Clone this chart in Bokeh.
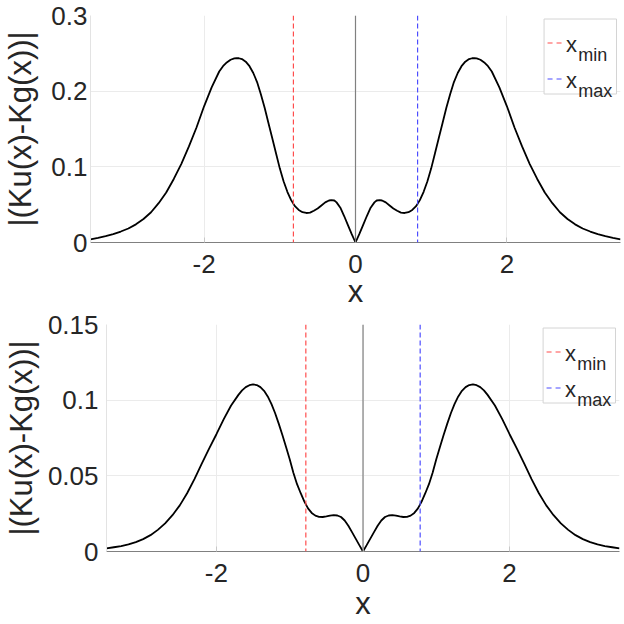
from bokeh.plotting import figure
from bokeh.models import Span, Label, FixedTicker, Range1d
from bokeh.embed import file_html
from bokeh.resources import INLINE

# ---------------- data ----------------
x_top = [-3.5, -3.4, -3.3, -3.2, -3.1, -3.0, -2.9, -2.8, -2.7, -2.6, -2.5, -2.4, -2.3, -2.2, -2.1,
         -2.0, -1.9, -1.8, -1.75, -1.7, -1.65, -1.6, -1.57, -1.54, -1.5, -1.45, -1.4, -1.35, -1.3,
         -1.25, -1.2, -1.15, -1.1, -1.05, -1.0, -0.95, -0.9, -0.85, -0.8, -0.75, -0.7, -0.65, -0.6,
         -0.55, -0.5, -0.45, -0.4, -0.35, -0.32, -0.28, -0.25, -0.2, -0.15, -0.1, -0.05, 0.0,
         0.05, 0.1, 0.15, 0.2, 0.25, 0.28, 0.32, 0.35, 0.4, 0.45, 0.5, 0.55, 0.6, 0.65, 0.7, 0.75,
         0.8, 0.85, 0.9, 0.95, 1.0, 1.05, 1.1, 1.15, 1.2, 1.25, 1.3, 1.35, 1.4, 1.45, 1.5, 1.54,
         1.57, 1.6, 1.65, 1.7, 1.75, 1.8, 1.9, 2.0, 2.1, 2.2, 2.3, 2.4, 2.5, 2.6, 2.7, 2.8, 2.9,
         3.0, 3.1, 3.2, 3.3, 3.4, 3.5]
y_top = [0.0042, 0.0062, 0.0085, 0.0112, 0.0145, 0.0185, 0.024, 0.031, 0.040, 0.052, 0.066, 0.084,
         0.104, 0.127, 0.152, 0.180, 0.205, 0.226, 0.233, 0.238, 0.2415, 0.2433, 0.2438, 0.2435,
         0.2425, 0.239, 0.233, 0.224, 0.212, 0.196, 0.178, 0.158, 0.138, 0.118, 0.098, 0.081, 0.067,
         0.056, 0.048, 0.043, 0.040, 0.039, 0.0395, 0.042, 0.045, 0.049, 0.053, 0.0555, 0.056,
         0.0555, 0.053, 0.046, 0.035, 0.023, 0.011, 0.0,
         0.011, 0.023, 0.035, 0.046, 0.053, 0.0555, 0.056, 0.0555, 0.053, 0.049, 0.045, 0.042,
         0.0395, 0.039, 0.040, 0.043, 0.048, 0.056, 0.067, 0.081, 0.098, 0.118, 0.138, 0.158, 0.178,
         0.196, 0.212, 0.224, 0.233, 0.239, 0.2425, 0.2435, 0.2438, 0.2433, 0.2415, 0.238, 0.233,
         0.226, 0.205, 0.180, 0.152, 0.127, 0.104, 0.084, 0.066, 0.052, 0.040, 0.031, 0.024, 0.0185,
         0.0145, 0.0112, 0.0085, 0.0062, 0.0042]

x_bot = [-3.5, -3.4, -3.3, -3.2, -3.1, -3.0, -2.9, -2.8, -2.7, -2.6, -2.5, -2.4, -2.3, -2.2, -2.1,
         -2.0, -1.9, -1.8, -1.7, -1.65, -1.6, -1.55, -1.5, -1.45, -1.4, -1.35, -1.3, -1.25, -1.2,
         -1.15, -1.1, -1.05, -1.0, -0.95, -0.9, -0.85, -0.8, -0.75, -0.7, -0.65, -0.6, -0.55, -0.5,
         -0.45, -0.4, -0.35, -0.3, -0.25, -0.2, -0.15, -0.1, -0.05, 0.0,
         0.05, 0.1, 0.15, 0.2, 0.25, 0.3, 0.35, 0.4, 0.45, 0.5, 0.55, 0.6, 0.65, 0.7, 0.75, 0.8,
         0.85, 0.9, 0.95, 1.0, 1.05, 1.1, 1.15, 1.2, 1.25, 1.3, 1.35, 1.4, 1.45, 1.5, 1.55, 1.6,
         1.65, 1.7, 1.8, 1.9, 2.0, 2.1, 2.2, 2.3, 2.4, 2.5, 2.6, 2.7, 2.8, 2.9, 3.0, 3.1, 3.2, 3.3,
         3.4, 3.5]
y_bot = [0.0020, 0.0028, 0.0036, 0.0047, 0.0062, 0.0082, 0.0108, 0.0143, 0.0186, 0.0240, 0.0305,
         0.0385, 0.0478, 0.0580, 0.0680, 0.0775, 0.0875, 0.0965, 0.1035, 0.1065, 0.1086, 0.1099,
         0.1104, 0.1100, 0.1086, 0.1062, 0.1025, 0.0975, 0.0915, 0.0845, 0.0770, 0.0690, 0.0610,
         0.0520, 0.0445, 0.0385, 0.0330, 0.0285, 0.0255, 0.0237, 0.0229, 0.0228, 0.0232, 0.0237,
         0.0240, 0.0238, 0.0228, 0.0205, 0.0170, 0.0128, 0.0085, 0.0042, 0.0,
         0.0042, 0.0085, 0.0128, 0.0170, 0.0205, 0.0228, 0.0238, 0.0240, 0.0237, 0.0232, 0.0228,
         0.0229, 0.0237, 0.0255, 0.0285, 0.0330, 0.0385, 0.0445, 0.0520, 0.0610, 0.0690, 0.0770,
         0.0845, 0.0915, 0.0975, 0.1025, 0.1062, 0.1086, 0.1100, 0.1104, 0.1099, 0.1086, 0.1065,
         0.1035, 0.0965, 0.0875, 0.0775, 0.0680, 0.0580, 0.0478, 0.0385, 0.0305, 0.0240, 0.0186,
         0.0143, 0.0108, 0.0082, 0.0062, 0.0047, 0.0036, 0.0028, 0.0020]

xmin_top, xmax_top = -0.82, 0.82
xmin_bot, xmax_bot = -0.78, 0.78

x_ticks = [-2, 0, 2]
x_tick_labels = ["-2", "0", "2"]
y_ticks_top = [0, 0.1, 0.2, 0.3]
y_tick_labels_top = ["0", "0.1", "0.2", "0.3"]
y_ticks_bot = [0, 0.05, 0.1, 0.15]
y_tick_labels_bot = ["0", "0.05", "0.1", "0.15"]

x_label = "x"
y_label = "|(Ku(x)-Kg(x))|"
legend_main = ["x", "x"]
legend_sub = ["min", "max"]

X_LO, X_HI = -3.5, 3.5
FONT = "Liberation Sans"
W = 624
TICK_FS = "26px"
LABEL_FS = "31px"


def make_fig(xs, ys, xmn, xmx, yticks, ylabels, ymax, fig_h, b_left, b_right, b_top, b_bottom,
             tick_standoff_y, label_standoff_y, tick_standoff_x, label_standoff_x):
    p = figure(width=W, height=fig_h, output_backend="svg", toolbar_location=None,
               x_range=Range1d(X_LO, X_HI), y_range=Range1d(0, ymax),
               min_border_left=b_left, min_border_right=b_right,
               min_border_top=b_top, min_border_bottom=b_bottom)
    p.outline_line_color = None
    p.background_fill_color = "white"
    p.border_fill_color = "white"

    frame_w = W - b_left - b_right
    frame_h = fig_h - b_top - b_bottom

    p.xgrid.ticker = FixedTicker(ticks=x_ticks)
    p.ygrid.ticker = FixedTicker(ticks=yticks)
    p.xgrid.grid_line_color = "#ebebeb"
    p.ygrid.grid_line_color = "#ebebeb"

    xa = p.xaxis[0]
    xa.ticker = FixedTicker(ticks=x_ticks)
    xa.major_label_overrides = {t: l for t, l in zip(x_ticks, x_tick_labels)}
    xa.axis_label = x_label
    xa.axis_line_color = "#808080"
    xa.axis_line_width = 1.2
    xa.major_tick_in = 5
    xa.major_tick_out = 0
    xa.major_tick_line_color = "#c8c8c8"
    xa.minor_tick_line_color = None
    xa.major_label_text_font = FONT
    xa.major_label_text_font_size = TICK_FS
    xa.major_label_text_color = "#262626"
    xa.major_label_standoff = tick_standoff_x
    xa.axis_label_text_font = FONT
    xa.axis_label_text_font_size = LABEL_FS
    xa.axis_label_text_font_style = "normal"
    xa.axis_label_text_color = "#262626"
    xa.axis_label_standoff = label_standoff_x

    ya = p.yaxis[0]
    ya.ticker = FixedTicker(ticks=yticks)
    ya.major_label_overrides = {t: l for t, l in zip(yticks, ylabels)}
    ya.axis_label = y_label
    ya.axis_line_color = "#e3e3e3"
    ya.major_tick_in = 0
    ya.major_tick_out = 0
    ya.minor_tick_line_color = None
    ya.major_label_text_font = FONT
    ya.major_label_text_font_size = TICK_FS
    ya.major_label_text_color = "#262626"
    ya.major_label_standoff = tick_standoff_y
    ya.axis_label_text_font = FONT
    ya.axis_label_text_font_size = LABEL_FS
    ya.axis_label_text_font_style = "normal"
    ya.axis_label_text_color = "#262626"
    ya.axis_label_standoff = label_standoff_y

    p.line(xs, ys, line_color="black", line_width=1.8)

    p.add_layout(Span(location=0, dimension="height", line_color="#808080", line_width=1.2))
    p.add_layout(Span(location=xmn, dimension="height", line_color="#ff4d4d",
                      line_width=1.2, line_dash="5 3"))
    p.add_layout(Span(location=xmx, dimension="height", line_color="#4d4dff",
                      line_width=1.2, line_dash="5 3"))

    def fx(px):
        return X_LO + (X_HI - X_LO) * px / frame_w

    def fy(py):
        return ymax - ymax * py / frame_h

    box_w, box_h = 73, 75
    bl = frame_w - 4 - box_w
    bt = 3.5
    p.quad(left=[fx(bl)], right=[fx(bl + box_w)], top=[fy(bt)], bottom=[fy(bt + box_h)],
           fill_color="white", line_color="#d4d4d4", line_width=1)
    colors = ["#ff4d4d", "#4d4dff"]
    dash_y = [24, 60]
    for i in range(2):
        p.segment(x0=[fx(bl + 3.5)], x1=[fx(bl + 18)], y0=[fy(bt + dash_y[i])], y1=[fy(bt + dash_y[i])],
                  line_color=colors[i], line_width=1.2, line_dash="5 4")
        p.add_layout(Label(x=fx(bl + 22), y=fy(bt + dash_y[i] + 1), text=legend_main[i],
                           text_font=FONT, text_font_size="22px", text_color="#262626",
                           text_baseline="alphabetic", text_align="left"))
        p.add_layout(Label(x=fx(bl + 34.5), y=fy(bt + dash_y[i] + 12), text=legend_sub[i],
                           text_font=FONT, text_font_size="18px", text_color="#262626",
                           text_baseline="alphabetic", text_align="left"))
    return p


p1 = make_fig(x_top, y_top, xmin_top, xmax_top, y_ticks_top, y_tick_labels_top, 0.3,
              fig_h=311, b_left=86, b_right=4, b_top=15, b_bottom=69,
              tick_standoff_y=3, label_standoff_y=10, tick_standoff_x=12, label_standoff_x=-2)
p2 = make_fig(x_bot, y_bot, xmin_bot, xmax_bot, y_ticks_bot, y_tick_labels_bot, 0.15,
              fig_h=313, b_left=102, b_right=5, b_top=13, b_bottom=73,
              tick_standoff_y=8, label_standoff_y=6, tick_standoff_x=12, label_standoff_x=1)

open("out.html", "w").write(file_html([p1, p2], INLINE))
